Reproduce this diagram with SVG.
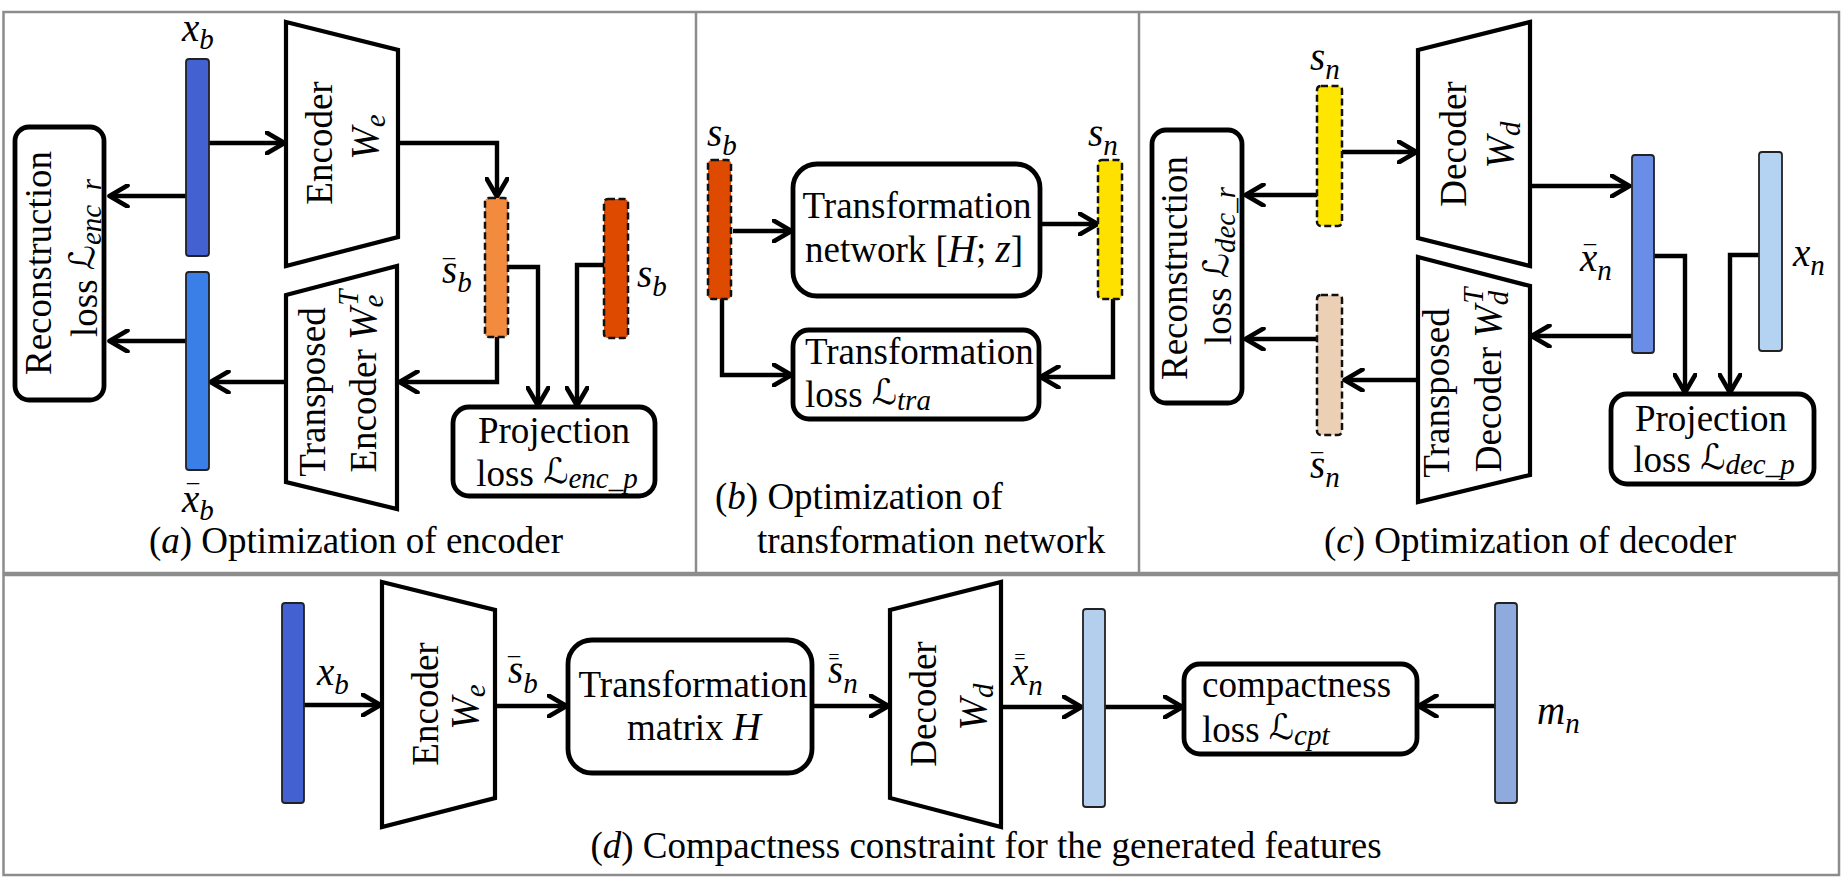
<svg xmlns="http://www.w3.org/2000/svg" width="1845" height="891" viewBox="0 0 1845 891">
<defs>
<marker id="ah" viewBox="0 0 24 24" refX="19.5" refY="12" markerWidth="24" markerHeight="24" markerUnits="userSpaceOnUse" orient="auto">
<path d="M2,1.5 L20,12 L2,22.5" fill="none" stroke="#000" stroke-width="4.6" stroke-linecap="round" stroke-linejoin="round"/>
</marker>
</defs>
<style>
.frame{fill:none;stroke:#8c8c8c;stroke-width:2.5}
.box{fill:#fff;stroke:#000;stroke-width:4.8}
.trap{fill:#fff;stroke:#000;stroke-width:4.2}
.bar{stroke:#222;stroke-width:1.8}
.dash{stroke:#111;stroke-width:2.5;stroke-dasharray:7 3.5}
.con{fill:none;stroke:#000;stroke-width:4.4;marker-end:url(#ah)}
.t{font-family:"Liberation Serif","Times New Roman",serif;font-size:37px;fill:#000}
.m{font-family:"Liberation Serif","DejaVu Serif",serif;font-style:italic;font-size:39px;fill:#000}
.sub{font-size:29px}
.c{text-anchor:middle}
.L{font-family:"DejaVu Serif","DejaVu Sans",serif;font-style:normal;font-size:35px}
.ov{font-family:"Liberation Serif",serif;font-style:normal;font-size:24px;text-anchor:middle}
.ov2{font-family:"Liberation Serif",serif;font-style:normal;font-size:20px;text-anchor:middle}
</style>
<rect width="1845" height="891" fill="#fff"/>
<g id="frame">
<rect class="frame" x="3.5" y="12" width="1835.5" height="561"/>
<line class="frame" x1="696" y1="12" x2="696" y2="573"/>
<line class="frame" x1="1139" y1="12" x2="1139" y2="573"/>
<rect class="frame" x="3.5" y="575" width="1835.5" height="300"/>
</g>

<g id="connectors">
<path class="con" d="M209,143 H284"/>
<path class="con" d="M186,196 H110"/>
<path class="con" d="M186,341 H110"/>
<path class="con" d="M398,143 H497 V196"/>
<path class="con" d="M508,267 H538 V405"/>
<path class="con" d="M604,265 H577 V405"/>
<path class="con" d="M497,337 V382 H400"/>
<path class="con" d="M284,382 H211"/>

<path class="con" d="M733,231 H791"/>
<path class="con" d="M1040,224 H1097"/>
<path class="con" d="M722,299 V375 H791"/>
<path class="con" d="M1113,299 V377 H1041"/>

<path class="con" d="M1342,152 H1416"/>
<path class="con" d="M1317,195 H1246"/>
<path class="con" d="M1317,339 H1246"/>
<path class="con" d="M1530,186 H1629"/>
<path class="con" d="M1654,256 H1685 V392"/>
<path class="con" d="M1759,255 H1730 V392"/>
<path class="con" d="M1632,336 H1532"/>
<path class="con" d="M1418,380 H1345"/>

<path class="con" d="M304,705 H380"/>
<path class="con" d="M495,706 H566"/>
<path class="con" d="M812,706 H888"/>
<path class="con" d="M1001,707 H1081"/>
<path class="con" d="M1105,707 H1182"/>
<path class="con" d="M1495,706 H1419"/>
</g>

<!-- Panel a -->
<g id="a_xb"><rect class="bar" x="186" y="59" width="23" height="197" rx="3" fill="#4361d1"/>
<text class="m" x="182" y="41">x<tspan class="sub" dy="8">b</tspan></text></g>
<g id="a_xbbar"><rect class="bar" x="186" y="272" width="23" height="198" rx="3" fill="#3a7ee8"/>
<text class="m" x="182" y="512">x<tspan class="sub" dy="8">b</tspan></text>
<text class="ov" x="193" y="501">¯</text></g>
<g id="a_encoder"><polygon class="trap" points="286,22 398,50 398,237 286,266"/>
<text class="t c" transform="translate(332,143) rotate(-90)">Encoder</text>
<text class="m c" transform="translate(378,137) rotate(-90)">W<tspan class="sub" dy="7">e</tspan></text></g>
<g id="a_tencoder"><polygon class="trap" points="286,295 397,266 397,509 286,482"/>
<text class="t c" transform="translate(325,392) rotate(-90)">Transposed</text>
<text class="t c" transform="translate(376,381) rotate(-90)">Encoder <tspan class="m">W</tspan><tspan class="m sub" dy="7">e</tspan><tspan class="m sub" dx="-11" dy="-25">T</tspan></text></g>
<g id="a_recon"><rect class="box" x="15" y="127" width="89" height="273" rx="14"/>
<text class="t c" transform="translate(51,263) rotate(-90)">Reconstruction</text>
<text class="t c" transform="translate(97,258) rotate(-90)">loss <tspan class="L" dy="-3">ℒ</tspan><tspan class="m sub" dy="7">enc_r</tspan></text></g>
<g id="a_sbbar"><rect class="dash" x="485" y="198" width="23" height="139" rx="4" fill="#f28b3d"/>
<text class="m" x="442" y="283">s<tspan class="sub" dy="9">b</tspan></text>
<text class="ov" x="449" y="276">¯</text></g>
<g id="a_sb"><rect class="dash" x="604" y="199" width="24" height="139" rx="4" fill="#de4a00"/>
<text class="m" x="637" y="287">s<tspan class="sub" dy="9">b</tspan></text></g>
<g id="a_proj"><rect class="box" x="453" y="407" width="202" height="89" rx="16"/>
<text class="t c" x="554" y="443">Projection</text>
<text class="t c" x="557" y="486">loss <tspan class="L" dy="-3">ℒ</tspan><tspan class="m sub" dy="5">enc_p</tspan></text></g>
<text class="t c" x="356" y="553">(<tspan font-style="italic">a</tspan>) Optimization of encoder</text>

<!-- Panel b -->
<g id="b_sb"><rect class="dash" x="708" y="160" width="23" height="139" rx="4" fill="#de4a00"/>
<text class="m" x="707" y="146">s<tspan class="sub" dy="9">b</tspan></text></g>
<g id="b_sn"><rect class="dash" x="1098" y="160" width="24" height="139" rx="4" fill="#ffe100"/>
<text class="m" x="1088" y="146">s<tspan class="sub" dy="9">n</tspan></text></g>
<g id="b_tnet"><rect class="box" x="793" y="164" width="247" height="132" rx="24"/>
<text class="t c" x="917" y="218">Transformation</text>
<text class="t c" x="914" y="262">network [<tspan class="m">H</tspan>; <tspan class="m">z</tspan>]</text></g>
<g id="b_tloss"><rect class="box" x="793" y="330" width="246" height="89" rx="16"/>
<text class="t" x="805" y="364">Transformation</text>
<text class="t" x="805" y="407">loss <tspan class="L" dy="-3">ℒ</tspan><tspan class="m sub" dy="6">tra</tspan></text></g>
<text class="t" x="715" y="509">(<tspan font-style="italic">b</tspan>) Optimization of</text>
<text class="t" x="757" y="553">transformation network</text>

<!-- Panel c -->
<g id="c_sn"><rect class="dash" x="1317" y="86" width="25" height="140" rx="4" fill="#ffe600"/>
<text class="m" x="1310" y="70">s<tspan class="sub" dy="9">n</tspan></text></g>
<g id="c_decoder"><polygon class="trap" points="1418,50 1530,22 1530,266 1418,238"/>
<text class="t c" transform="translate(1466,144) rotate(-90)">Decoder</text>
<text class="m c" transform="translate(1513,145) rotate(-90)">W<tspan class="sub" dy="7">d</tspan></text></g>
<g id="c_xnbar"><rect class="bar" x="1632" y="155" width="22" height="198" rx="3" fill="#6a8de8"/>
<text class="m" x="1580" y="271">x<tspan class="sub" dy="9">n</tspan></text>
<text class="ov" x="1590" y="262">¯</text></g>
<g id="c_xn"><rect class="bar" x="1759" y="152" width="23" height="199" rx="3" fill="#b4d2f2"/>
<text class="m" x="1793" y="266">x<tspan class="sub" dy="9">n</tspan></text></g>
<g id="c_tdecoder"><polygon class="trap" points="1418,257 1530,286 1530,475 1418,502"/>
<text class="t c" transform="translate(1449,393) rotate(-90)">Transposed</text>
<text class="t c" transform="translate(1501,380) rotate(-90)">Decoder <tspan class="m">W</tspan><tspan class="m sub" dy="7">d</tspan><tspan class="m sub" dx="-13" dy="-25">T</tspan></text></g>
<g id="c_snbar"><rect class="dash" x="1317" y="295" width="25" height="140" rx="4" fill="#ecd0b6"/>
<text class="m" x="1310" y="478">s<tspan class="sub" dy="9">n</tspan></text>
<text class="ov" x="1317" y="470">¯</text></g>
<g id="c_recon"><rect class="box" x="1152" y="130" width="90" height="273" rx="14"/>
<text class="t c" transform="translate(1187,268) rotate(-90)">Reconstruction</text>
<text class="t c" transform="translate(1231,266) rotate(-90)">loss  <tspan class="L" dy="-3">ℒ</tspan><tspan class="m sub" dy="7">dec_r</tspan></text></g>
<g id="c_proj"><rect class="box" x="1611" y="394" width="203" height="90" rx="16"/>
<text class="t c" x="1711" y="431">Projection</text>
<text class="t c" x="1714" y="472">loss <tspan class="L" dy="-3">ℒ</tspan><tspan class="m sub" dy="5">dec_p</tspan></text></g>
<text class="t c" x="1530" y="553">(<tspan font-style="italic">c</tspan>) Optimization of decoder</text>

<!-- Panel d -->
<g id="d_xb"><rect class="bar" x="282" y="603" width="22" height="200" rx="3" fill="#4361d1"/>
<text class="m" x="317" y="685">x<tspan class="sub" dy="9">b</tspan></text></g>
<g id="d_encoder"><polygon class="trap" points="382,582 495,610 495,798 382,827"/>
<text class="t c" transform="translate(438,704) rotate(-90)">Encoder</text>
<text class="m c" transform="translate(478,707) rotate(-90)">W<tspan class="sub" dy="7">e</tspan></text></g>
<g id="d_sb"><text class="m" x="508" y="683">s<tspan class="sub" dy="10">b</tspan></text>
<text class="ov" x="514" y="674">¯</text></g>
<g id="d_tmat"><rect class="box" x="568" y="640" width="244" height="133" rx="24"/>
<text class="t c" x="693" y="697">Transformation</text>
<text class="t c" x="694" y="740">matrix <tspan class="m">H</tspan></text></g>
<g id="d_sn"><text class="m" x="828" y="683">s<tspan class="sub" dy="10">n</tspan></text>
<text class="ov2" x="834" y="664">=</text></g>
<g id="d_decoder"><polygon class="trap" points="890,610 1001,582 1001,827 890,798"/>
<text class="t c" transform="translate(936,704) rotate(-90)">Decoder</text>
<text class="m c" transform="translate(986,707) rotate(-90)">W<tspan class="sub" dy="7">d</tspan></text></g>
<g id="d_xn"><text class="m" x="1011" y="685">x<tspan class="sub" dy="10">n</tspan></text>
<text class="ov2" x="1020" y="664">=</text></g>
<g id="d_gen"><rect class="bar" x="1083" y="609" width="22" height="198" rx="3" fill="#b4ceee"/></g>
<g id="d_comp"><rect class="box" x="1184" y="664" width="233" height="90" rx="16"/>
<text class="t" x="1202" y="697">compactness</text>
<text class="t" x="1202" y="742">loss  <tspan class="L" dy="-3">ℒ</tspan><tspan class="m sub" dy="6">cpt</tspan></text></g>
<g id="d_mn"><rect class="bar" x="1495" y="603" width="22" height="200" rx="3" fill="#8faadc"/>
<text class="m" x="1537" y="724">m<tspan class="sub" dy="9">n</tspan></text></g>
<text class="t c" x="986" y="858">(<tspan font-style="italic">d</tspan>) Compactness constraint for the generated features</text>
</svg>
